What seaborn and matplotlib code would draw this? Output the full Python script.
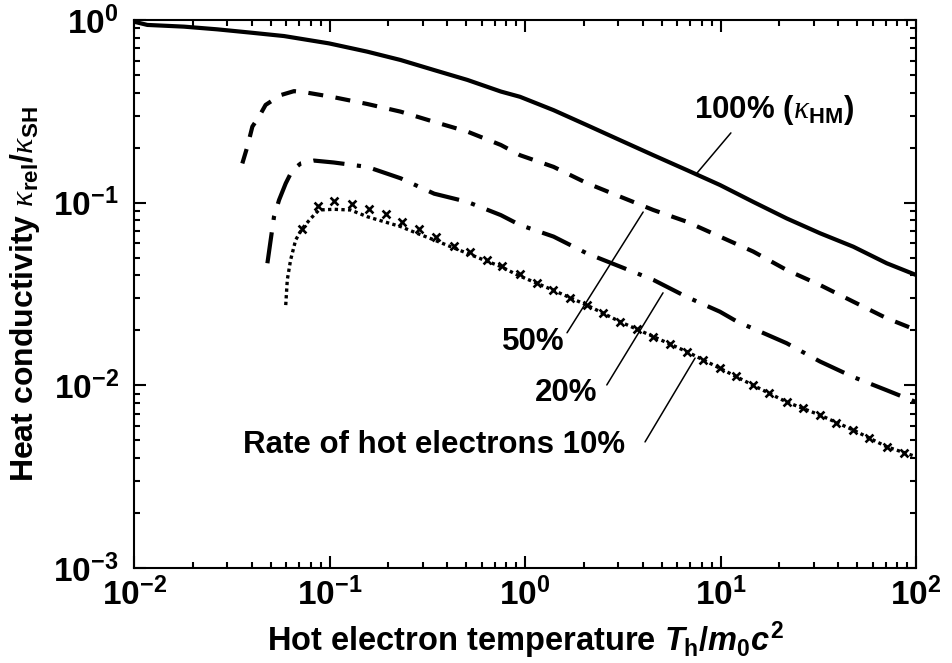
import matplotlib
matplotlib.use('Agg')
import matplotlib.pyplot as plt
import seaborn as sns
from matplotlib.ticker import LogLocator, NullFormatter

# hot electron temperature T_h/m0c^2 and kappa_rel/kappa_SH
t_100 = [0.010, 0.0117, 0.0180, 0.0267, 0.0395, 0.0585, 0.0993, 0.156, 0.231, 0.343,
         0.507, 0.752, 0.942, 1.40, 2.07, 3.06, 4.53, 6.71, 9.93, 14.7, 21.8, 32.3,
         47.8, 70.8, 100.0]
k_100 = [0.979, 0.940, 0.920, 0.889, 0.853, 0.817, 0.745, 0.671, 0.604, 0.532,
         0.470, 0.406, 0.380, 0.321, 0.266, 0.220, 0.182, 0.151, 0.125, 0.101, 0.082,
         0.068, 0.0574, 0.0466, 0.0402]

t_50 = [0.0358, 0.0380, 0.0403, 0.0436, 0.0471, 0.0562, 0.0658, 0.0771, 0.105, 0.156,
        0.231, 0.343, 0.507, 0.752, 0.942, 1.40, 2.07, 3.06, 4.53, 6.71, 9.93, 14.7,
        21.8, 32.3, 47.8, 70.8, 100.0]
k_50 = [0.164, 0.203, 0.261, 0.296, 0.343, 0.388, 0.408, 0.400, 0.378, 0.347,
        0.315, 0.277, 0.245, 0.207, 0.182, 0.157, 0.128, 0.108, 0.0912, 0.0787, 0.0652,
        0.0540, 0.0428, 0.0354, 0.0287, 0.0233, 0.0201]

t_20 = [0.0481, 0.0500, 0.0520, 0.0552, 0.0597, 0.0646, 0.0713, 0.0834, 0.105, 0.156,
        0.231, 0.343, 0.507, 0.752, 0.942, 1.40, 2.07, 3.06, 4.53, 6.71, 9.93, 12.1,
        21.8, 32.3, 47.8, 70.8, 100.0]
k_20 = [0.0466, 0.0625, 0.0838, 0.1035, 0.1276, 0.151, 0.164, 0.170, 0.166, 0.157,
        0.136, 0.112, 0.101, 0.0855, 0.0755, 0.0652, 0.0528, 0.0447, 0.0378, 0.0305,
        0.0253, 0.0224, 0.0170, 0.0135, 0.0111, 0.0094, 0.0081]

t_10 = [0.0597, 0.0608, 0.0632, 0.0671, 0.0726, 0.0802, 0.0883, 0.105, 0.128, 0.156,
        0.190, 0.231, 0.281, 0.343, 0.417, 0.507, 0.617, 0.752, 0.914, 1.40, 2.07,
        3.06, 4.53, 6.71, 9.93, 14.7, 21.8, 32.3, 47.8, 70.8, 100.0]
k_10 = [0.0275, 0.0378, 0.0485, 0.0625, 0.0723, 0.082, 0.0912, 0.092, 0.0912, 0.0838,
        0.0787, 0.0740, 0.0679, 0.0625, 0.0574, 0.0528, 0.0485, 0.0447, 0.0402, 0.0331,
        0.0275, 0.0223, 0.0185, 0.0153, 0.0124, 0.0100, 0.0081, 0.00687, 0.00569,
        0.00461, 0.00407]

# cross markers drawn along the 10% curve
t_mk = [0.0726, 0.0877, 0.1054, 0.131, 0.159, 0.194, 0.236, 0.287, 0.349, 0.434,
        0.524, 0.637, 0.766, 0.942, 1.148, 1.396, 1.698, 2.065, 2.512, 3.062, 3.724,
        4.529, 5.508, 6.714, 8.166, 9.93, 12.02, 14.72, 17.78, 21.78, 26.30, 32.28,
        38.90, 47.75, 57.54, 70.79, 87.10]
k_mk = [0.0714, 0.0959, 0.1026, 0.0984, 0.0920, 0.0863, 0.0787, 0.0714, 0.0652, 0.0579,
        0.0535, 0.0485, 0.0452, 0.0406, 0.0363, 0.0331, 0.0302, 0.0275, 0.0248, 0.0223,
        0.0203, 0.0185, 0.0168, 0.0153, 0.0137, 0.0124, 0.0112, 0.0100, 0.00906,
        0.00815, 0.00748, 0.00687, 0.00625, 0.00569, 0.00513, 0.00461, 0.00427]

sns.set_theme(style='ticks')
plt.rcParams['font.family'] = ['Liberation Sans', 'DejaVu Sans']
plt.rcParams['font.weight'] = 'bold'
plt.rcParams['axes.labelweight'] = 'bold'
plt.rcParams['axes.unicode_minus'] = False
plt.rcParams['mathtext.fontset'] = 'custom'
plt.rcParams['mathtext.rm'] = 'Liberation Sans:bold'
plt.rcParams['mathtext.bf'] = 'Liberation Sans:bold'
plt.rcParams['mathtext.it'] = 'Liberation Sans:italic:bold'
# thin italic kappa, as in the original
plt.rcParams['mathtext.sf'] = 'Liberation Serif:style=italic:weight=normal'

fig = plt.figure(figsize=(9.52, 6.63), dpi=100)
ax = fig.add_axes([0.1408, 0.1433, 0.8214, 0.8265])
ax.set_xscale('log')
ax.set_yscale('log')

sns.lineplot(x=t_100, y=k_100, ax=ax, color='black', lw=3.0, linestyle='-', sort=False)
sns.lineplot(x=t_50, y=k_50, ax=ax, color='black', lw=3.0, linestyle=(0, (3.6, 3.0)), sort=False)
sns.lineplot(x=t_20, y=k_20, ax=ax, color='black', lw=3.0,
             linestyle=(0, (7.5, 3, 1, 3)), sort=False)
sns.lineplot(x=t_10, y=k_10, ax=ax, color='black', lw=2.4, linestyle=(0, (1, 1)), sort=False)
sns.scatterplot(x=t_mk, y=k_mk, ax=ax, marker='x', s=32, color='black', linewidth=1.9)

ax.set_xlim(1e-2, 1e2)
ax.set_ylim(1e-3, 1e0)
for axis in (ax.xaxis, ax.yaxis):
    axis.set_major_locator(LogLocator(base=10, numticks=10))
    axis.set_minor_locator(LogLocator(base=10, subs=range(2, 10), numticks=10))
    axis.set_minor_formatter(NullFormatter())

ax.tick_params(which='both', direction='in', top=True, right=True, colors='black',
               width=1.5, labelsize=24)
ax.tick_params(which='major', length=8.5)
ax.tick_params(which='minor', length=4.3)
ax.tick_params(axis='x', pad=7)
ax.tick_params(axis='y', pad=11)
for sp in ax.spines.values():
    sp.set_linewidth(1.5)
    sp.set_color('black')

ax.set_xlabel(r'Hot electron temperature $T_{\mathbf{h}}/m_{\mathbf{0}}c^{\mathbf{2}}$',
              fontsize=23.5, fontweight='bold', color='black')
ax.set_ylabel(r'Heat conductivity $\mathsf{\kappa}_{\mathbf{rel}}/\mathsf{\kappa}_{\mathbf{SH}}$',
              fontsize=23, fontweight='bold', color='black')
ax.xaxis.set_label_coords(0.5, -0.094)
ax.yaxis.set_label_coords(-0.118, 0.5)

# curve labels with leader lines
lbl = dict(fontsize=22.5, fontweight='bold', ha='center', va='center', color='black')
line = dict(arrowstyle='-', lw=1.1, color='black', shrinkA=0, shrinkB=0)
ax.text(18.8, 0.321, r'100% ($\mathsf{\kappa}_{\mathbf{HM}}$)', **lbl)
ax.annotate('', xy=(7.59, 0.1455), xytext=(11.3, 0.241), arrowprops=line)
ax.text(1.10, 0.0173, '50%', **lbl)
ax.annotate('', xy=(4.02, 0.0889), xytext=(1.64, 0.0194), arrowprops=line)
ax.text(1.62, 0.00908, '20%', **lbl)
ax.annotate('', xy=(5.08, 0.0321), xytext=(2.62, 0.01005), arrowprops=line)
ax.text(0.343, 0.00472, 'Rate of hot electrons 10%', **lbl)
ax.annotate('', xy=(7.41, 0.0141), xytext=(4.11, 0.0049), arrowprops=line)

fig.savefig('out.png', dpi=100)
plt.close(fig)
